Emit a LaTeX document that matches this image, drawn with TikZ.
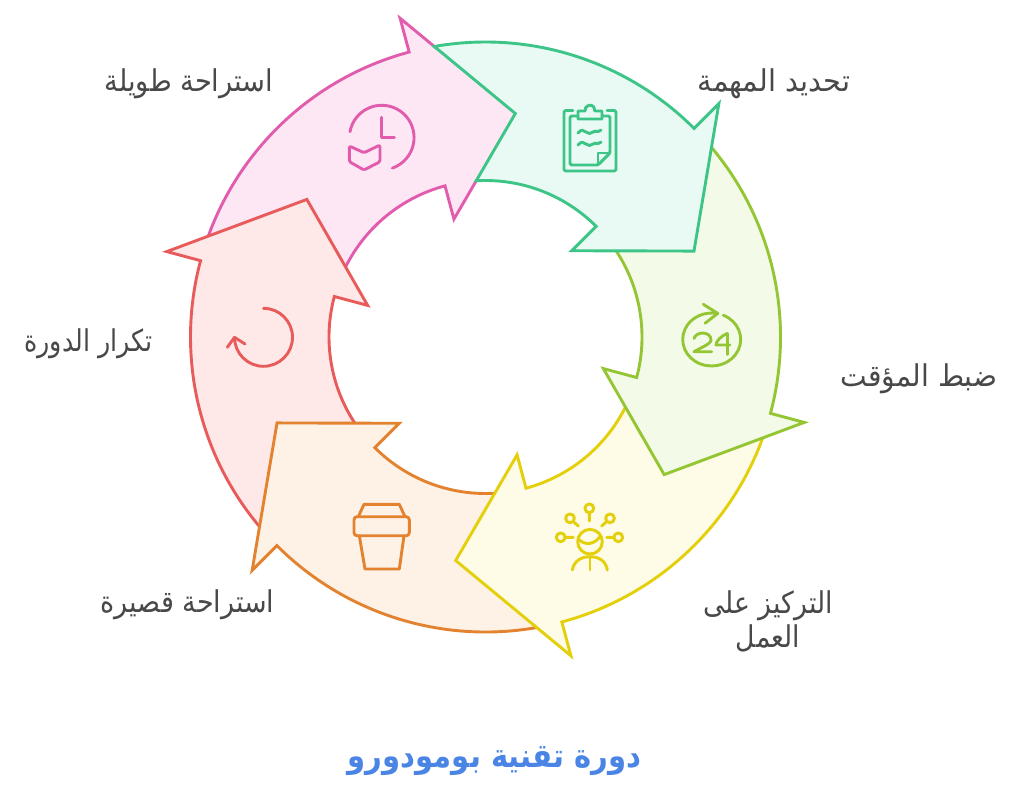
\documentclass[tikz,border=0pt]{standalone}
\usepackage{fontspec}
\newfontfamily\arabicfont[Script=Arabic]{DejaVu Sans}
\TeXXeTstate=1
\definecolor{pinkline}{HTML}{E25CAE}
\definecolor{pinkfill}{HTML}{FDE7F5}
\definecolor{redline}{HTML}{E85B5B}
\definecolor{redfill}{HTML}{FFE8E8}
\definecolor{orangeline}{HTML}{E38330}
\definecolor{orangefill}{HTML}{FEF2E6}
\definecolor{yellowline}{HTML}{E3CF0A}
\definecolor{yellowfill}{HTML}{FEFBE6}
\definecolor{limeline}{HTML}{94C634}
\definecolor{limefill}{HTML}{F3FBE8}
\definecolor{greenline}{HTML}{3DC587}
\definecolor{greenfill}{HTML}{E8FAF3}
\definecolor{labelgray}{HTML}{484848}
\definecolor{titleblue}{HTML}{4A85E5}
\tikzset{
  sector/.style={line width=2.9pt,line join=miter,miter limit=10},
  icon/.style={line width=2.9pt,line cap=round,line join=round},
  steplabel/.style={text=labelgray,font=\arabicfont\fontsize{30}{34}\selectfont,align=center,transform shape},
}
\begin{document}
\begin{tikzpicture}[x=1pt,y=-1pt]
    \useasboundingbox (0,0) rectangle (1024,793);
    \fill[white] (0,0) rectangle (1024,793);
    \begin{scope}[shift={(485.5,337)}]
    % order matters, each sector lies on the one before; \t and \c push hidden corners out of sight
    \foreach \a/\hue/\t/\c in {255/pink/27/45,195/red/22.6/45,135/orange/22.6/45,75/yellow/22.6/45,15/lime/22.6/45,-45/green/22.6/37.4}
        \draw[sector,draw=\hue line,fill=\hue fill]
            (\a-55:295) arc[start angle=\a-55,end angle=\a,radius=295]
            -- (\a:330) -- (\a+5:295) -- (\a+\t:225.5) -- (\a+11.6:156.5) -- (\a:122) -- (\a:156.5)
            arc[start angle=\a,end angle=\a-48.4,radius=156.5]
            -- (\a-\c:225.5) -- cycle;
    \end{scope}
    % clipboard
    \draw[icon,greenline,rounded corners=2pt] (573,110.5) -- (564,110.5) -- (564,171) -- (616,171) -- (616,110.5) -- (607,110.5);
    \draw[icon,greenline,rounded corners=1.5pt] (578,116) -- (570,116) -- (570,165) -- (598,165) -- (610,153) -- (610,116) -- (602,116);
    \draw[icon,greenline] (598,165) -- (598,153) -- (610,153);
    \draw[icon,greenline] (578,119) -- (578,111) -- (585,111) arc[start angle=170,end angle=370,radius=5] -- (602,111) -- (602,119) -- cycle;
    \foreach \y in {132,144}
        \draw[icon,greenline] (578,\y+1) .. controls (581,\y-3) and (584,\y-2) .. (586,\y) .. controls (588,\y+2) and (591,\y+2) .. (593,\y) .. controls (595,\y-2) and (598,\y+1) .. (601,\y-2);
    % 24 hours
    \draw[icon,limeline] (723.3,315.2) arc[start angle=-66.4,end angle=282,x radius=29,y radius=26.5];
    \draw[icon,limeline] (703.3,304.3) -- (717.7,313.4) -- (705,323.3);
    \draw[icon,limeline] (694,338.5) .. controls (696,331) and (711,331) .. (711,340) .. controls (711,344) and (700,348) .. (694,351.7) -- (711.7,351.7);
    \draw[icon,limeline] (727.3,333.5) -- (727.3,354.3);
    \draw[icon,limeline] (727.3,333.5) .. controls (721,336) and (716,341) .. (716,345) -- (730,345);
    % focus
    \draw[icon,yellowline] (590,541.7) circle (12.3);
    \draw[icon,yellowline] (579.5,540) .. controls (586,546) and (595,544) .. (600.5,536);
    \draw[icon,yellowline] (572.3,570) .. controls (574,561) and (581,556.7) .. (590,556.7) .. controls (599,556.7) and (606,561) .. (607.3,570);
    \draw[icon,yellowline] (590,556.7) -- (590,570);
    \draw[icon,yellowline] (589.3,508.3) circle (4.4) (589.3,512.7) -- (589.3,521);
    \draw[icon,yellowline] (570,518.3) circle (4.4) (573.2,521.5) -- (578.3,526);
    \draw[icon,yellowline] (610,518.3) circle (4.4) (606.8,521.5) -- (601.7,526);
    \draw[icon,yellowline] (560.7,537.3) circle (4.4) (565.1,537.3) -- (573.3,537.3);
    \draw[icon,yellowline] (618.3,537.3) circle (4.4) (613.9,537.3) -- (606.7,537.3);
    % coffee cup
    \draw[icon,orangeline,rounded corners=3pt] (354,516.7) rectangle (409.3,535.7);
    \draw[icon,orangeline] (358.3,516.7) -- (364,504.3) -- (399.3,504.3) -- (405,516.7);
    \draw[icon,orangeline] (359.3,535.7) -- (365,569) -- (399.3,569) -- (404,535.7);
    % repeat
    \draw[icon,redline] (263.5,308.3) arc[start angle=-90,end angle=180,radius=29];
    \draw[icon,redline] (227.3,347.3) -- (234.5,337.3) -- (245,344);
    % clock and book
    \draw[icon,pinkline] (350,131.7) arc[start angle=190.5,end angle=431,radius=32.3];
    \draw[icon,pinkline] (381.7,117.3) -- (381.7,137.7) -- (394.3,137.7);
    \draw[icon,pinkline,rounded corners=1.5pt] (349.3,146) -- (349.3,161.7) -- (364,170) -- (380,161.7) -- (380,145) -- (364,152.7) -- cycle;
    \node[steplabel,xscale=.96] (task) at (774,84) {\beginR تحديد المهمة\endR};
    \node[steplabel,xscale=.94] (timer) at (919,379) {\beginR ضبط المؤقت\endR};
    \node[steplabel,xscale=.89] (focus) at (768,621) {\beginR التركيز على\endR\\\beginR العمل\endR};
    \node[steplabel,xscale=.90] (shortbreak) at (187.5,605) {\beginR استراحة قصيرة\endR};
    \node[steplabel,xscale=.845] (again) at (88.5,344) {\beginR تكرار الدورة\endR};
    \node[steplabel,xscale=.91] (longbreak) at (189,84) {\beginR استراحة طويلة\endR};
    \node[text=titleblue,font=\arabicfont\bfseries\fontsize{33}{38}\selectfont,transform shape,xscale=.88] (title) at (494.5,761) {\beginR دورة تقنية بومودورو\endR};
\end{tikzpicture}
\end{document}
